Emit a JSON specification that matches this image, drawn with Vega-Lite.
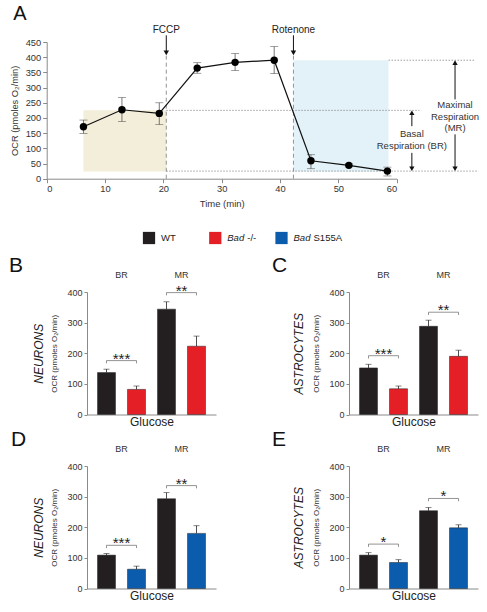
{
  "$schema": "https://vega.github.io/schema/vega-lite/v6.json",
  "padding": {"left": 9, "top": 3, "right": 0, "bottom": 0},
  "background": "white",
  "datasets": {
    "ptsA": [
      {"t": 6.3, "ocr": 171, "lo": 149, "hi": 193},
      {"t": 12.9, "ocr": 227, "lo": 188, "hi": 267},
      {"t": 19.3, "ocr": 215, "lo": 178, "hi": 250},
      {"t": 25.8, "ocr": 364, "lo": 347, "hi": 382},
      {"t": 32.3, "ocr": 383, "lo": 356, "hi": 412},
      {"t": 39.0, "ocr": 390, "lo": 346, "hi": 435},
      {"t": 45.3, "ocr": 59, "lo": 33, "hi": 79},
      {"t": 51.8, "ocr": 44, "lo": 39, "hi": 49},
      {"t": 58.4, "ocr": 25, "lo": 9, "hi": 38}
    ],
    "rectsA": [
      {"x1": 6.3, "x2": 20.5, "y1": 24, "y2": 225, "phase": "basal"},
      {"x1": 42.3, "x2": 58.6, "y1": 24, "y2": 390, "phase": "maximal"}
    ],
    "dotsA": [
      {"x1": 20.5, "x2": 63.9, "y": 225},
      {"x1": 58.6, "x2": 73.4, "y": 390},
      {"x1": 20.5, "x2": 74.0, "y": 25}
    ],
    "injA": [
      {"x": 20.5, "name": "FCCP"},
      {"x": 42.3, "name": "Rotenone"}
    ],
    "arrA": [
      {"x": 62.6, "ya": 216, "yb": 173},
      {"x": 62.6, "ya": 85, "yb": 34},
      {"x": 70.0, "ya": 381, "yb": 261},
      {"x": 70.0, "ya": 146, "yb": 34}
    ],
    "headsA": [
      {"x": 62.6, "y": 217, "dir": "up"},
      {"x": 62.6, "y": 33, "dir": "down"},
      {"x": 70.0, "y": 382, "dir": "up"},
      {"x": 70.0, "y": 33, "dir": "down"}
    ],
    "notesA": [
      {"x": 62.6, "y": 146, "t": "Basal"},
      {"x": 62.6, "y": 108, "t": "Respiration (BR)"},
      {"x": 70.0, "y": 241, "t": "Maximal"},
      {"x": 70.0, "y": 204, "t": "Respiration"},
      {"x": 70.0, "y": 166, "t": "(MR)"}
    ],
    "legend": [
      {"key": "WT", "it": "", "rest": "WT"},
      {"key": "Bad -/-", "it": "Bad", "rest": "-/-"},
      {"key": "Bad S155A", "it": "Bad", "rest": "S155A"}
    ],
    "groupLabels": [
      {"bar": "BR WT", "y": 456, "t": "BR"},
      {"bar": "MR WT", "y": 456, "t": "MR"}
    ],
    "barsB": [
      {"bar": "BR WT", "genotype": "WT", "mean": 137, "upper": 148},
      {"bar": "BR mut", "genotype": "Bad -/-", "mean": 82, "upper": 93},
      {"bar": "MR WT", "genotype": "WT", "mean": 344, "upper": 368},
      {"bar": "MR mut", "genotype": "Bad -/-", "mean": 223, "upper": 256}
    ],
    "barsC": [
      {"bar": "BR WT", "genotype": "WT", "mean": 152, "upper": 164},
      {"bar": "BR mut", "genotype": "Bad -/-", "mean": 84, "upper": 93},
      {"bar": "MR WT", "genotype": "WT", "mean": 288, "upper": 308},
      {"bar": "MR mut", "genotype": "Bad -/-", "mean": 190, "upper": 210}
    ],
    "barsD": [
      {"bar": "BR WT", "genotype": "WT", "mean": 109, "upper": 114},
      {"bar": "BR mut", "genotype": "Bad S155A", "mean": 63, "upper": 73},
      {"bar": "MR WT", "genotype": "WT", "mean": 293, "upper": 313},
      {"bar": "MR mut", "genotype": "Bad S155A", "mean": 180, "upper": 205}
    ],
    "barsE": [
      {"bar": "BR WT", "genotype": "WT", "mean": 109, "upper": 117},
      {"bar": "BR mut", "genotype": "Bad S155A", "mean": 85, "upper": 94},
      {"bar": "MR WT", "genotype": "WT", "mean": 254, "upper": 264},
      {"bar": "MR mut", "genotype": "Bad S155A", "mean": 198, "upper": 208}
    ],
    "brB": [
      {"id": "BR", "bar": "BR WT", "y": 167, "o": 1}, {"id": "BR", "bar": "BR WT", "y": 176, "o": 2},
      {"id": "BR", "bar": "BR mut", "y": 176, "o": 3}, {"id": "BR", "bar": "BR mut", "y": 167, "o": 4},
      {"id": "MR", "bar": "MR WT", "y": 389, "o": 1}, {"id": "MR", "bar": "MR WT", "y": 398, "o": 2},
      {"id": "MR", "bar": "MR mut", "y": 398, "o": 3}, {"id": "MR", "bar": "MR mut", "y": 389, "o": 4}
    ],
    "brC": [
      {"id": "BR", "bar": "BR WT", "y": 183, "o": 1}, {"id": "BR", "bar": "BR WT", "y": 192, "o": 2},
      {"id": "BR", "bar": "BR mut", "y": 192, "o": 3}, {"id": "BR", "bar": "BR mut", "y": 183, "o": 4},
      {"id": "MR", "bar": "MR WT", "y": 325, "o": 1}, {"id": "MR", "bar": "MR WT", "y": 334, "o": 2},
      {"id": "MR", "bar": "MR mut", "y": 334, "o": 3}, {"id": "MR", "bar": "MR mut", "y": 325, "o": 4}
    ],
    "brD": [
      {"id": "BR", "bar": "BR WT", "y": 132, "o": 1}, {"id": "BR", "bar": "BR WT", "y": 141, "o": 2},
      {"id": "BR", "bar": "BR mut", "y": 141, "o": 3}, {"id": "BR", "bar": "BR mut", "y": 132, "o": 4},
      {"id": "MR", "bar": "MR WT", "y": 327, "o": 1}, {"id": "MR", "bar": "MR WT", "y": 336, "o": 2},
      {"id": "MR", "bar": "MR mut", "y": 336, "o": 3}, {"id": "MR", "bar": "MR mut", "y": 327, "o": 4}
    ],
    "brE": [
      {"id": "BR", "bar": "BR WT", "y": 136, "o": 1}, {"id": "BR", "bar": "BR WT", "y": 145, "o": 2},
      {"id": "BR", "bar": "BR mut", "y": 145, "o": 3}, {"id": "BR", "bar": "BR mut", "y": 136, "o": 4},
      {"id": "MR", "bar": "MR WT", "y": 285, "o": 1}, {"id": "MR", "bar": "MR WT", "y": 294, "o": 2},
      {"id": "MR", "bar": "MR mut", "y": 294, "o": 3}, {"id": "MR", "bar": "MR mut", "y": 285, "o": 4}
    ],
    "starsB": [{"bar": "BR WT", "y": 176, "s": "***"}, {"bar": "MR WT", "y": 398, "s": "**"}],
    "starsC": [{"bar": "BR WT", "y": 192, "s": "***"}, {"bar": "MR WT", "y": 334, "s": "**"}],
    "starsD": [{"bar": "BR WT", "y": 141, "s": "***"}, {"bar": "MR WT", "y": 336, "s": "**"}],
    "starsE": [{"bar": "BR WT", "y": 145, "s": "*"}, {"bar": "MR WT", "y": 294, "s": "*"}]
  },
  "spacing": 9,
  "align": "none",
  "vconcat": [
    {
      "spacing": 23,
      "align": "none",
      "vconcat": [
        {
          "title": {"text": "A", "anchor": "start", "frame": "bounds", "fontSize": 20, "fontWeight": "normal", "color": "#111", "dx": 3, "offset": 1},
          "width": 310,
          "height": 136.7,
          "resolve": {"axis": {"x": "independent", "y": "independent"}},
          "layer": [
            {
              "data": {"name": "rectsA"},
              "transform": [{"filter": "datum.phase === 'basal'"}],
              "mark": {"type": "rect", "color": "#f3eed9"},
              "encoding": {
                "x": {"field": "x1", "type": "quantitative", "scale": {"domain": [0, 60], "range": [-40.3, 309.7], "nice": false}, "axis": {"values": [0, 10, 20, 30, 40, 50, 60], "title": "Time (min)", "titleFontSize": 9.5, "labelFontSize": 9.3, "tickSize": 4, "labelPadding": 2, "titlePadding": 4}},
                "x2": {"field": "x2"},
                "y": {"field": "y1", "type": "quantitative", "scale": {"domain": [0, 450], "nice": false}, "axis": {"values": [0, 50, 100, 150, 200, 250, 300, 350, 400, 450], "offset": 40.3, "title": "OCR (pmoles O₂/min)", "titleFontSize": 9.3, "labelFontSize": 9.3, "tickSize": 4, "labelPadding": 2, "titlePadding": 6, "labelOverlap": false}},
                "y2": {"field": "y2"}
              }
            },
            {
              "data": {"name": "rectsA"},
              "transform": [{"filter": "datum.phase === 'maximal'"}],
              "mark": {"type": "rect", "color": "#e3f2f8"},
              "encoding": {
                "x": {"field": "x1", "type": "quantitative", "axis": null},
                "x2": {"field": "x2"},
                "y": {"field": "y1", "type": "quantitative", "axis": null},
                "y2": {"field": "y2"}
              }
            },
            {
              "data": {"name": "dotsA"},
              "mark": {"type": "rule", "color": "#777", "strokeWidth": 0.7, "strokeDash": [1.5, 1.5]},
              "encoding": {
                "x": {"field": "x1", "type": "quantitative", "axis": null},
                "x2": {"field": "x2"},
                "y": {"field": "y", "type": "quantitative", "axis": null}
              }
            },
            {
              "data": {"name": "injA"},
              "mark": {"type": "rule", "color": "#888", "strokeWidth": 0.9, "strokeDash": [4, 3]},
              "encoding": {
                "x": {"field": "x", "type": "quantitative", "axis": null},
                "y": {"datum": 0, "type": "quantitative", "axis": null},
                "y2": {"datum": 405}
              }
            },
            {
              "data": {"name": "injA"},
              "mark": {"type": "rule", "color": "#111", "strokeWidth": 1},
              "encoding": {
                "x": {"field": "x", "type": "quantitative", "axis": null},
                "y": {"datum": 472, "type": "quantitative", "axis": null},
                "y2": {"datum": 418}
              }
            },
            {
              "data": {"name": "injA"},
              "mark": {"type": "point", "shape": "triangle-down", "filled": true, "color": "#111", "size": 30, "opacity": 1},
              "encoding": {
                "x": {"field": "x", "type": "quantitative", "axis": null},
                "y": {"datum": 414, "type": "quantitative", "axis": null}
              }
            },
            {
              "data": {"name": "injA"},
              "mark": {"type": "text", "fontSize": 10, "color": "#222"},
              "encoding": {
                "x": {"field": "x", "type": "quantitative", "axis": null},
                "y": {"datum": 491, "type": "quantitative", "axis": null},
                "text": {"field": "name"}
              }
            },
            {
              "data": {"name": "arrA"},
              "mark": {"type": "rule", "color": "#111", "strokeWidth": 1},
              "encoding": {
                "x": {"field": "x", "type": "quantitative", "axis": null},
                "y": {"field": "ya", "type": "quantitative", "axis": null},
                "y2": {"field": "yb"}
              }
            },
            {
              "data": {"name": "headsA"},
              "mark": {"type": "point", "filled": true, "color": "#111", "size": 28, "opacity": 1},
              "encoding": {
                "x": {"field": "x", "type": "quantitative", "axis": null},
                "y": {"field": "y", "type": "quantitative", "axis": null},
                "shape": {"field": "dir", "type": "nominal", "scale": {"domain": ["up", "down"], "range": ["triangle-up", "triangle-down"]}, "legend": null}
              }
            },
            {
              "data": {"name": "notesA"},
              "mark": {"type": "text", "fontSize": 9.5, "color": "#333"},
              "encoding": {
                "x": {"field": "x", "type": "quantitative", "axis": null},
                "y": {"field": "y", "type": "quantitative", "axis": null},
                "text": {"field": "t"}
              }
            },
            {
              "data": {"name": "ptsA"},
              "mark": {"type": "rule", "color": "#555", "strokeWidth": 0.8},
              "encoding": {
                "x": {"field": "t", "type": "quantitative", "axis": null},
                "y": {"field": "lo", "type": "quantitative", "axis": null},
                "y2": {"field": "hi"}
              }
            },
            {
              "data": {"name": "ptsA"},
              "mark": {"type": "tick", "orient": "horizontal", "color": "#555", "size": 8, "thickness": 0.8},
              "encoding": {
                "x": {"field": "t", "type": "quantitative", "axis": null},
                "y": {"field": "lo", "type": "quantitative", "axis": null}
              }
            },
            {
              "data": {"name": "ptsA"},
              "mark": {"type": "tick", "orient": "horizontal", "color": "#555", "size": 8, "thickness": 0.8},
              "encoding": {
                "x": {"field": "t", "type": "quantitative", "axis": null},
                "y": {"field": "hi", "type": "quantitative", "axis": null}
              }
            },
            {
              "data": {"name": "ptsA"},
              "mark": {"type": "line", "color": "#111", "strokeWidth": 1.2},
              "encoding": {
                "x": {"field": "t", "type": "quantitative", "axis": null},
                "y": {"field": "ocr", "type": "quantitative", "axis": null}
              }
            },
            {
              "data": {"name": "ptsA"},
              "mark": {"type": "point", "shape": "circle", "filled": true, "color": "#000", "size": 55, "opacity": 1},
              "encoding": {
                "x": {"field": "t", "type": "quantitative", "axis": null},
                "y": {"field": "ocr", "type": "quantitative", "axis": null}
              }
            }
          ]
        },
        {
          "width": 265,
          "height": 14,
          "data": {"name": "legend"},
          "encoding": {
            "x": {"field": "key", "type": "nominal", "scale": {"type": "point", "domain": ["WT", "Bad -/-", "Bad S155A"], "padding": 1, "align": 0.468}, "axis": null}
          },
          "layer": [
            {
              "mark": {"type": "point", "shape": "square", "filled": true, "size": 150, "opacity": 1},
              "encoding": {
                "color": {"field": "key", "type": "nominal", "scale": {"domain": ["WT", "Bad -/-", "Bad S155A"], "range": ["#231f20", "#e41f26", "#0b5cad"]}, "legend": null}
              }
            },
            {
              "mark": {"type": "text", "align": "left", "dx": 12, "fontSize": 9.5, "fontStyle": "italic", "color": "#222"},
              "encoding": {"text": {"field": "it"}}
            },
            {
              "transform": [{"filter": "datum.key === 'WT'"}],
              "mark": {"type": "text", "align": "left", "dx": 12, "fontSize": 9.5, "color": "#222"},
              "encoding": {"text": {"field": "rest"}}
            },
            {
              "transform": [{"filter": "datum.key !== 'WT'"}],
              "mark": {"type": "text", "align": "left", "dx": 32, "fontSize": 9.5, "color": "#222"},
              "encoding": {"text": {"field": "rest"}}
            }
          ]
        }
      ]
    },
    {
      "spacing": 0,
      "align": "none",
      "vconcat": [
        {
          "spacing": 56,
          "hconcat": [
            {
              "title": {"text": "B", "anchor": "start", "frame": "bounds", "fontSize": 21, "fontWeight": "normal", "color": "#111", "dx": -23, "offset": -5},
              "width": 129,
              "height": 122.5,
              "encoding": {
                "x": {"field": "bar", "type": "nominal", "scale": {"domain": ["BR WT", "BR mut", "MR WT", "MR mut"], "paddingInner": 0.4, "paddingOuter": 0.35}, "axis": {"title": "Glucose", "labels": false, "ticks": false, "titleFontSize": 12, "titlePadding": 2, "titleColor": "#222"}}
              },
              "layer": [
                {
                  "data": {"name": "barsB"},
                  "mark": {"type": "bar", "stroke": "#222", "strokeWidth": 0.5},
                  "encoding": {
                    "y": {"field": "mean", "type": "quantitative", "scale": {"domain": [0, 400], "nice": false}, "axis": {"values": [0, 100, 200, 300, 400], "title": "OCR (pmoles O₂/min)", "titleFontSize": 8, "labelFontSize": 9, "tickSize": 3, "labelPadding": 2, "titlePadding": 8}},
                    "color": {"field": "genotype", "type": "nominal", "scale": {"domain": ["WT", "Bad -/-", "Bad S155A"], "range": ["#231f20", "#e41f26", "#0b5cad"]}, "legend": null}
                  }
                },
                {
                  "data": {"name": "barsB"},
                  "mark": {"type": "rule", "color": "#222", "strokeWidth": 0.8},
                  "encoding": {"y": {"field": "mean", "type": "quantitative", "scale": {"domain": [0, 400], "nice": false}, "axis": null}, "y2": {"field": "upper"}}
                },
                {
                  "data": {"name": "barsB"},
                  "mark": {"type": "tick", "color": "#222", "size": 6, "thickness": 0.8},
                  "encoding": {"y": {"field": "upper", "type": "quantitative", "scale": {"domain": [0, 400], "nice": false}, "axis": null}}
                },
                {
                  "data": {"name": "brB"},
                  "mark": {"type": "line", "color": "#666", "strokeWidth": 0.7},
                  "encoding": {"y": {"field": "y", "type": "quantitative", "scale": {"domain": [0, 400], "nice": false}, "axis": null}, "detail": {"field": "id"}, "order": {"field": "o"}}
                },
                {
                  "data": {"name": "starsB"},
                  "mark": {"type": "text", "dx": 15, "dy": 3, "baseline": "alphabetic", "fontSize": 15, "color": "#222"},
                  "encoding": {"y": {"field": "y", "type": "quantitative", "scale": {"domain": [0, 400], "nice": false}, "axis": null}, "text": {"field": "s"}}
                },
                {
                  "data": {"name": "groupLabels"},
                  "mark": {"type": "text", "dx": 15, "fontSize": 9, "color": "#333"},
                  "encoding": {"y": {"field": "y", "type": "quantitative", "scale": {"domain": [0, 400], "nice": false}, "axis": {"orient": "left", "title": "NEURONS", "titleFontStyle": "italic", "titleFontSize": 12, "titleColor": "#222", "labels": false, "ticks": false, "domain": false, "titlePadding": 42}}, "text": {"field": "t"}}
                }
              ],
              "resolve": {"axis": {"y": "independent"}}
            },
            {
              "title": {"text": "C", "anchor": "start", "frame": "bounds", "fontSize": 21, "fontWeight": "normal", "color": "#111", "dx": -20, "offset": -5},
              "width": 129,
              "height": 122.5,
              "encoding": {
                "x": {"field": "bar", "type": "nominal", "scale": {"domain": ["BR WT", "BR mut", "MR WT", "MR mut"], "paddingInner": 0.4, "paddingOuter": 0.35}, "axis": {"title": "Glucose", "labels": false, "ticks": false, "titleFontSize": 12, "titlePadding": 2, "titleColor": "#222"}}
              },
              "layer": [
                {
                  "data": {"name": "barsC"},
                  "mark": {"type": "bar", "stroke": "#222", "strokeWidth": 0.5},
                  "encoding": {
                    "y": {"field": "mean", "type": "quantitative", "scale": {"domain": [0, 400], "nice": false}, "axis": {"values": [0, 100, 200, 300, 400], "title": "OCR (pmoles O₂/min)", "titleFontSize": 8, "labelFontSize": 9, "tickSize": 3, "labelPadding": 2, "titlePadding": 8}},
                    "color": {"field": "genotype", "type": "nominal", "scale": {"domain": ["WT", "Bad -/-", "Bad S155A"], "range": ["#231f20", "#e41f26", "#0b5cad"]}, "legend": null}
                  }
                },
                {
                  "data": {"name": "barsC"},
                  "mark": {"type": "rule", "color": "#222", "strokeWidth": 0.8},
                  "encoding": {"y": {"field": "mean", "type": "quantitative", "scale": {"domain": [0, 400], "nice": false}, "axis": null}, "y2": {"field": "upper"}}
                },
                {
                  "data": {"name": "barsC"},
                  "mark": {"type": "tick", "color": "#222", "size": 6, "thickness": 0.8},
                  "encoding": {"y": {"field": "upper", "type": "quantitative", "scale": {"domain": [0, 400], "nice": false}, "axis": null}}
                },
                {
                  "data": {"name": "brC"},
                  "mark": {"type": "line", "color": "#666", "strokeWidth": 0.7},
                  "encoding": {"y": {"field": "y", "type": "quantitative", "scale": {"domain": [0, 400], "nice": false}, "axis": null}, "detail": {"field": "id"}, "order": {"field": "o"}}
                },
                {
                  "data": {"name": "starsC"},
                  "mark": {"type": "text", "dx": 15, "dy": 3, "baseline": "alphabetic", "fontSize": 15, "color": "#222"},
                  "encoding": {"y": {"field": "y", "type": "quantitative", "scale": {"domain": [0, 400], "nice": false}, "axis": null}, "text": {"field": "s"}}
                },
                {
                  "data": {"name": "groupLabels"},
                  "mark": {"type": "text", "dx": 15, "fontSize": 9, "color": "#333"},
                  "encoding": {"y": {"field": "y", "type": "quantitative", "scale": {"domain": [0, 400], "nice": false}, "axis": {"orient": "left", "title": "ASTROCYTES", "titleFontStyle": "italic", "titleFontSize": 12, "titleColor": "#222", "labels": false, "ticks": false, "domain": false, "titlePadding": 44}}, "text": {"field": "t"}}
                }
              ],
              "resolve": {"axis": {"y": "independent"}}
            }
          ]
        },
        {
          "spacing": 56,
          "hconcat": [
            {
              "title": {"text": "D", "anchor": "start", "frame": "bounds", "fontSize": 21, "fontWeight": "normal", "color": "#111", "dx": -21, "offset": -5},
              "width": 129,
              "height": 122.5,
              "encoding": {
                "x": {"field": "bar", "type": "nominal", "scale": {"domain": ["BR WT", "BR mut", "MR WT", "MR mut"], "paddingInner": 0.4, "paddingOuter": 0.35}, "axis": {"title": "Glucose", "labels": false, "ticks": false, "titleFontSize": 12, "titlePadding": 2, "titleColor": "#222"}}
              },
              "layer": [
                {
                  "data": {"name": "barsD"},
                  "mark": {"type": "bar", "stroke": "#222", "strokeWidth": 0.5},
                  "encoding": {
                    "y": {"field": "mean", "type": "quantitative", "scale": {"domain": [0, 400], "nice": false}, "axis": {"values": [0, 100, 200, 300, 400], "title": "OCR (pmoles O₂/min)", "titleFontSize": 8, "labelFontSize": 9, "tickSize": 3, "labelPadding": 2, "titlePadding": 8}},
                    "color": {"field": "genotype", "type": "nominal", "scale": {"domain": ["WT", "Bad -/-", "Bad S155A"], "range": ["#231f20", "#e41f26", "#0b5cad"]}, "legend": null}
                  }
                },
                {
                  "data": {"name": "barsD"},
                  "mark": {"type": "rule", "color": "#222", "strokeWidth": 0.8},
                  "encoding": {"y": {"field": "mean", "type": "quantitative", "scale": {"domain": [0, 400], "nice": false}, "axis": null}, "y2": {"field": "upper"}}
                },
                {
                  "data": {"name": "barsD"},
                  "mark": {"type": "tick", "color": "#222", "size": 6, "thickness": 0.8},
                  "encoding": {"y": {"field": "upper", "type": "quantitative", "scale": {"domain": [0, 400], "nice": false}, "axis": null}}
                },
                {
                  "data": {"name": "brD"},
                  "mark": {"type": "line", "color": "#666", "strokeWidth": 0.7},
                  "encoding": {"y": {"field": "y", "type": "quantitative", "scale": {"domain": [0, 400], "nice": false}, "axis": null}, "detail": {"field": "id"}, "order": {"field": "o"}}
                },
                {
                  "data": {"name": "starsD"},
                  "mark": {"type": "text", "dx": 15, "dy": 3, "baseline": "alphabetic", "fontSize": 15, "color": "#222"},
                  "encoding": {"y": {"field": "y", "type": "quantitative", "scale": {"domain": [0, 400], "nice": false}, "axis": null}, "text": {"field": "s"}}
                },
                {
                  "data": {"name": "groupLabels"},
                  "mark": {"type": "text", "dx": 15, "fontSize": 9, "color": "#333"},
                  "encoding": {"y": {"field": "y", "type": "quantitative", "scale": {"domain": [0, 400], "nice": false}, "axis": {"orient": "left", "title": "NEURONS", "titleFontStyle": "italic", "titleFontSize": 12, "titleColor": "#222", "labels": false, "ticks": false, "domain": false, "titlePadding": 42}}, "text": {"field": "t"}}
                }
              ],
              "resolve": {"axis": {"y": "independent"}}
            },
            {
              "title": {"text": "E", "anchor": "start", "frame": "bounds", "fontSize": 21, "fontWeight": "normal", "color": "#111", "dx": -20, "offset": -5},
              "width": 129,
              "height": 122.5,
              "encoding": {
                "x": {"field": "bar", "type": "nominal", "scale": {"domain": ["BR WT", "BR mut", "MR WT", "MR mut"], "paddingInner": 0.4, "paddingOuter": 0.35}, "axis": {"title": "Glucose", "labels": false, "ticks": false, "titleFontSize": 12, "titlePadding": 2, "titleColor": "#222"}}
              },
              "layer": [
                {
                  "data": {"name": "barsE"},
                  "mark": {"type": "bar", "stroke": "#222", "strokeWidth": 0.5},
                  "encoding": {
                    "y": {"field": "mean", "type": "quantitative", "scale": {"domain": [0, 400], "nice": false}, "axis": {"values": [0, 100, 200, 300, 400], "title": "OCR (pmoles O₂/min)", "titleFontSize": 8, "labelFontSize": 9, "tickSize": 3, "labelPadding": 2, "titlePadding": 8}},
                    "color": {"field": "genotype", "type": "nominal", "scale": {"domain": ["WT", "Bad -/-", "Bad S155A"], "range": ["#231f20", "#e41f26", "#0b5cad"]}, "legend": null}
                  }
                },
                {
                  "data": {"name": "barsE"},
                  "mark": {"type": "rule", "color": "#222", "strokeWidth": 0.8},
                  "encoding": {"y": {"field": "mean", "type": "quantitative", "scale": {"domain": [0, 400], "nice": false}, "axis": null}, "y2": {"field": "upper"}}
                },
                {
                  "data": {"name": "barsE"},
                  "mark": {"type": "tick", "color": "#222", "size": 6, "thickness": 0.8},
                  "encoding": {"y": {"field": "upper", "type": "quantitative", "scale": {"domain": [0, 400], "nice": false}, "axis": null}}
                },
                {
                  "data": {"name": "brE"},
                  "mark": {"type": "line", "color": "#666", "strokeWidth": 0.7},
                  "encoding": {"y": {"field": "y", "type": "quantitative", "scale": {"domain": [0, 400], "nice": false}, "axis": null}, "detail": {"field": "id"}, "order": {"field": "o"}}
                },
                {
                  "data": {"name": "starsE"},
                  "mark": {"type": "text", "dx": 15, "dy": 3, "baseline": "alphabetic", "fontSize": 15, "color": "#222"},
                  "encoding": {"y": {"field": "y", "type": "quantitative", "scale": {"domain": [0, 400], "nice": false}, "axis": null}, "text": {"field": "s"}}
                },
                {
                  "data": {"name": "groupLabels"},
                  "mark": {"type": "text", "dx": 15, "fontSize": 9, "color": "#333"},
                  "encoding": {"y": {"field": "y", "type": "quantitative", "scale": {"domain": [0, 400], "nice": false}, "axis": {"orient": "left", "title": "ASTROCYTES", "titleFontStyle": "italic", "titleFontSize": 12, "titleColor": "#222", "labels": false, "ticks": false, "domain": false, "titlePadding": 44}}, "text": {"field": "t"}}
                }
              ],
              "resolve": {"axis": {"y": "independent"}}
            }
          ]
        }
      ]
    }
  ],
  "config": {
    "font": "Liberation Sans",
    "view": {"stroke": null},
    "axis": {"domainColor": "#8a8a8a", "tickColor": "#8a8a8a", "labelColor": "#333", "titleColor": "#333", "titleFontWeight": "normal", "grid": false, "labelFont": "Liberation Sans", "titleFont": "Liberation Sans"},
    "text": {"font": "Liberation Sans"},
    "title": {"font": "Liberation Sans"}
  }
}
